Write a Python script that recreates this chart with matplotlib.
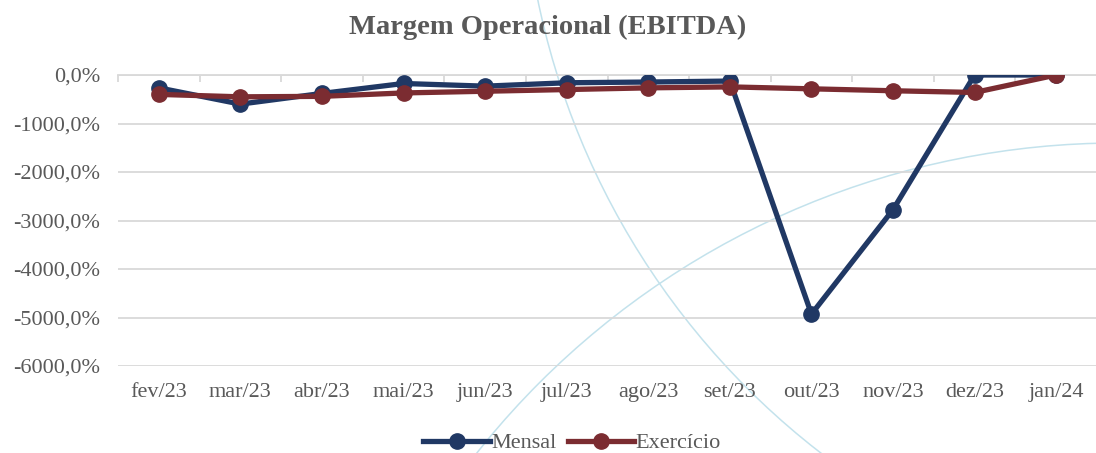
import matplotlib
matplotlib.use("Agg")
import matplotlib.pyplot as plt
from matplotlib.patches import Circle
from matplotlib.ticker import FuncFormatter, FixedLocator

plt.rcParams['font.family'] = ['Liberation Serif', 'DejaVu Serif']

meses = ["fev/23", "mar/23", "abr/23", "mai/23", "jun/23", "jul/23",
         "ago/23", "set/23", "out/23", "nov/23", "dez/23", "jan/24"]
mensal = [-265, -600, -380, -175, -230, -160, -145, -125, -4930, -2775, 0, 0]
exercicio = [-400, -450, -440, -370, -335, -300, -265, -245, -285, -325, -360, 0]
y_ticks = [0, -1000, -2000, -3000, -4000, -5000, -6000]

NAVY = "#203864"
WINE = "#7B2C31"
GRID = "#D9D9D9"
TXT = "#595959"
ARC = "#C3E2EC"

W, H = 1096, 453
fig = plt.figure(figsize=(W / 100, H / 100), dpi=100)

# background decoration: two thin light-blue arcs, pixel coords
bg = fig.add_axes([0, 0, 1, 1], zorder=0)
bg.set_xlim(0, W); bg.set_ylim(H, 0); bg.axis("off")
for (cx, cy, r) in [(1290, -155, 768), (1118, 961, 818)]:
    bg.add_patch(Circle((cx, cy), r, fill=False, ec=ARC, lw=1.1))

ax = fig.add_axes([118 / W, 1 - 366 / H, (1097 - 118) / W, (366 - 75) / H], zorder=1)
ax.patch.set_alpha(0)
x = list(range(len(meses)))

ax.plot(x, mensal, color=NAVY, lw=3.8, marker="o", ms=11, label="Mensal", zorder=3)
ax.plot(x, exercicio, color=WINE, lw=3.8, marker="o", ms=11, label="Exercício", zorder=4)

ax.set_xlim(-0.5, len(meses) - 0.5)
ax.set_ylim(-6000, 0)
ax.yaxis.set_major_locator(FixedLocator(y_ticks))
ax.yaxis.set_major_formatter(FuncFormatter(
    lambda v, p: f"{abs(v) if v == 0 else v:.1f}%".replace(".", ",")))
ax.grid(axis="y", color=GRID, lw=1.3, zorder=0)
ax.set_axisbelow(True)

ax.set_xticks(x)
ax.set_xticklabels(meses)
ax.tick_params(axis="x", length=0, pad=12, labelsize=16, labelcolor=TXT)
ax.tick_params(axis="y", length=0, pad=13, labelsize=16, labelcolor=TXT)

# category-boundary tick marks hanging from the zero line
ax.set_xticks([i - 0.5 for i in range(len(meses) + 1)], minor=True)
ax.tick_params(axis="x", which="minor", top=True, bottom=False, direction="in",
               length=5, width=1.3, color=GRID)

for s in ["left", "right", "bottom"]:
    ax.spines[s].set_visible(False)
ax.spines["top"].set_color(GRID)
ax.spines["top"].set_linewidth(1.3)

fig.text(0.5, 1 - 27 / H, "Margem Operacional (EBITDA)", ha="center", va="center",
         fontsize=20.5, fontweight="bold", color=TXT)

leg = fig.legend(loc="center", bbox_to_anchor=(572 / W, 1 - 443 / H), ncol=2,
                 frameon=False, fontsize=16, labelcolor=TXT, handlelength=3.0,
                 handletextpad=0.05, columnspacing=0.5, numpoints=1)

fig.savefig("out.png", dpi=100)
